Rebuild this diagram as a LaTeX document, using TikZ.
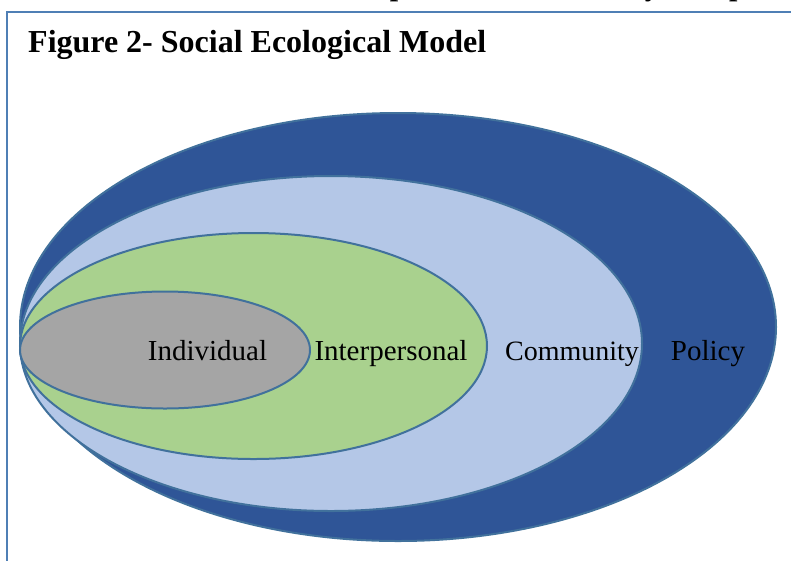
\documentclass[tikz,border=0pt]{standalone}
\usepackage{fontspec}
\setmainfont{Liberation Serif}
\definecolor{framecol}{HTML}{4F7FB5}
\definecolor{ringline}{HTML}{41719C}
\definecolor{policyfill}{HTML}{2F5597}
\definecolor{communityfill}{HTML}{B4C7E7}
\definecolor{interfill}{HTML}{A9D18E}
\definecolor{indivfill}{HTML}{A5A5A5}
\tikzset{
  ring/.style={draw=ringline, line width=2pt},
  ringlabel/.style={anchor=base, inner sep=0pt, font=\fontsize{29}{34}\selectfont},
}
\begin{document}
\begin{tikzpicture}[x=1pt,y=-1pt]
  \useasboundingbox (0,0) rectangle (791,560);
  \clip (0,0) rectangle (791,560);
  % tail of the preceding text line, cut by the page edge
  \node[anchor=base west, inner sep=0pt, font=\fontsize{30}{36}\selectfont\bfseries] (prevline) at (183,-5) {individual, interpersonal, community, and policy};
  % figure frame
  \draw[framecol, line width=2.5pt] (7,600) -- (7,12) -- (820,12);
  \node[anchor=base west, inner sep=0pt, font=\fontsize{32}{38}\selectfont\bfseries] (title) at (28,52) {Figure 2- Social Ecological Model};
  % nested levels of the model
  \fill[policyfill, ring] (398,327) ellipse [x radius=378, y radius=214];
  \fill[communityfill, ring] (331,343.5) ellipse [x radius=311, y radius=167.5];
  \fill[interfill, ring] (253.5,346) ellipse [x radius=233.5, y radius=113];
  \fill[indivfill, ring] (165,350) ellipse [x radius=145, y radius=58.5];
  % level names
  \node[ringlabel] (individual) at (207.5,360) {Individual};
  \node[ringlabel] (interpersonal) at (391,360) {Interpersonal};
  \node[ringlabel, font=\fontsize{28}{34}\selectfont] (community) at (572,360) {Community};
  \node[ringlabel] (policy) at (708,360) {Policy};
\end{tikzpicture}
\end{document}
